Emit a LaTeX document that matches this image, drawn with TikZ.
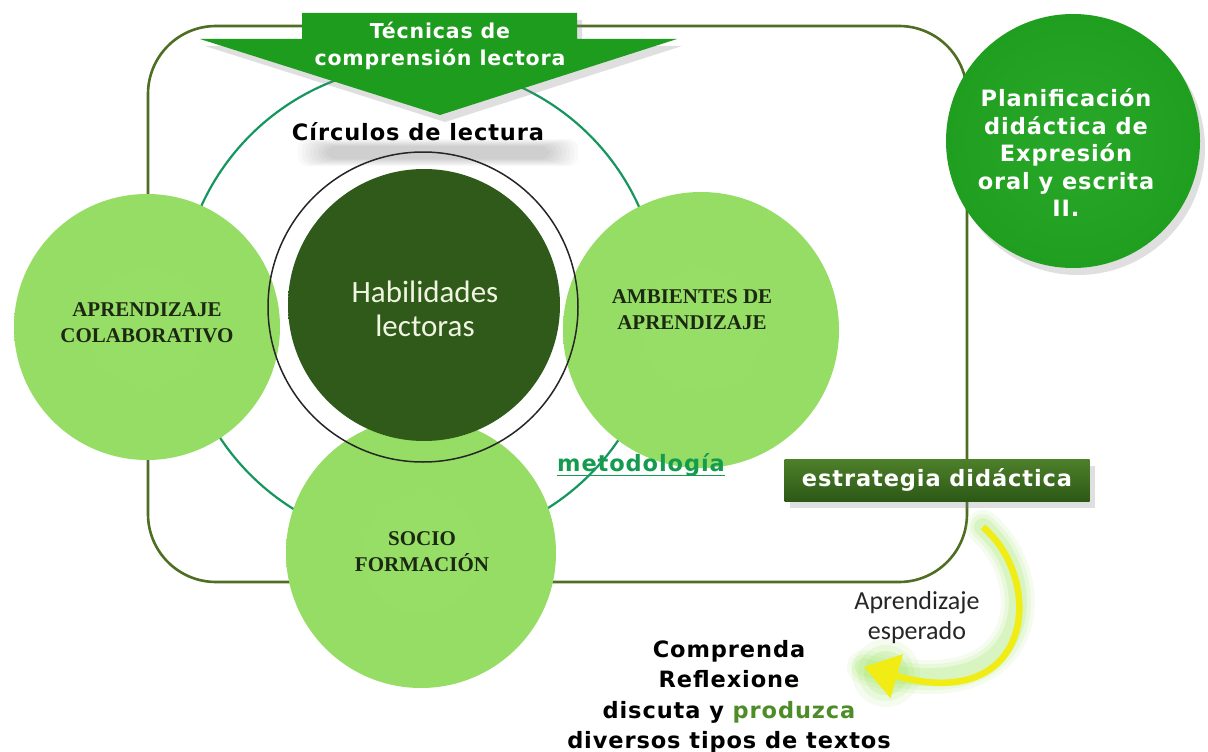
\documentclass[tikz,border=0pt]{standalone}
\usepackage{fontspec}
\usetikzlibrary{arrows.meta,shadows,calc}
\newfontfamily\widefont{DejaVu Sans}[LetterSpace=4]
\newfontfamily\calfont{Carlito}
\newfontfamily\capfont{Liberation Serif}
\definecolor{framec}{RGB}{78,110,34}
\definecolor{ringc}{RGB}{22,150,95}
\definecolor{lightc}{RGB}{148,220,98}
\definecolor{lightin}{RGB}{150,222,102}
\definecolor{lightedge}{RGB}{132,208,86}
\definecolor{darkc}{RGB}{48,90,26}
\definecolor{darkedge}{RGB}{32,62,15}
\definecolor{brightc}{RGB}{30,156,30}
\definecolor{brightin}{RGB}{40,168,40}
\definecolor{brightedge}{RGB}{22,132,22}
\definecolor{capc}{RGB}{28,40,18}
\definecolor{metc}{RGB}{20,155,80}
\definecolor{prodc}{RGB}{78,140,40}
\definecolor{boxtop}{RGB}{78,128,42}
\definecolor{boxbot}{RGB}{44,88,22}
\definecolor{yel}{RGB}{240,236,20}
\definecolor{glowc}{RGB}{160,230,100}
\definecolor{habc}{RGB}{240,245,225}
\pgfdeclareradialshading{lightball}{\pgfpoint{0bp}{0bp}}{color(0bp)=(lightin); color(44bp)=(lightc); color(50bp)=(lightedge)}
\pgfdeclareradialshading{darkball}{\pgfpoint{0bp}{0bp}}{color(0bp)=(darkc); color(40bp)=(darkc); color(50bp)=(darkedge)}
\pgfdeclareradialshading{brightball}{\pgfpoint{0bp}{0bp}}{color(0bp)=(brightin); color(30bp)=(brightc); color(50bp)=(brightedge)}
\tikzset{
  lightcirc/.style={circle, minimum size=#1, inner sep=0pt, shading=lightball},
  capt/.style={align=center, font=\capfont\bfseries\fontsize{21}{26}\selectfont, text=capc},
  boldtxt/.style 2 args={align=center, font=\widefont\bfseries\fontsize{#1}{#2}\selectfont},
  softshadow/.style={drop shadow={opacity=0.25, shadow xshift=5pt, shadow yshift=-7pt}},
}
\begin{document}
\begin{tikzpicture}[x=1pt,y=-1pt]
\useasboundingbox (0,0) rectangle (1208,752);
\fill[white] (0,0) rectangle (1208,752);

% teal ring and frame
\node[circle, draw=ringc, line width=2.2pt, minimum size=480, inner sep=0pt] (ring) at (420,305) {};
\draw[framec, line width=2.6pt, rounded corners=68pt] (148,26) rectangle (967,582);

% top arrow
\fill[brightc, softshadow] (302,13) -- (577,13) -- (577,39) -- (677,39) -- (440,115) -- (200,39) -- (302,39) -- cycle;
\node[boldtxt={20.5}{27}, text=white] (tec) at (440,46) {Técnicas de\\comprensión lectora};

% soft shadow band under Circulos de lectura
\foreach \i in {0,...,7}{
  \fill[black, opacity=0.022, rounded corners=9pt] (298+4*\i,139+\i) rectangle (578-4*\i,166-\i);
}
\node[boldtxt={22.5}{26}, text=black] (circ) at (418,132) {Círculos de lectura};

% light circles
\node[lightcirc=266] (colab) at (147,327) {};
\node[lightcirc=276] (amb) at (701,330) {};
\node[lightcirc=270] (socio) at (421,553) {};

% central dark circle and outline
\node[circle, minimum size=272, inner sep=0pt, shading=darkball] (hab) at (424,305) {};
\node[circle, draw=black!85, line width=1.5pt, minimum size=310, inner sep=0pt] (habring) at (423,307) {};

% circle texts
\node[capt] (colabt) at (147,323) {APRENDIZAJE\\COLABORATIVO};
\node[capt] (ambt) at (692,310) {AMBIENTES DE\\APRENDIZAJE};
\node[capt] (sociot) at (422,552) {SOCIO\\FORMACIÓN};
\node[align=center, text=habc, font=\calfont\fontsize{31}{34}\selectfont] (habt) at (425,309) {Habilidades\\lectoras};

% metodologia
\node[anchor=base, inner sep=0pt, font=\widefont\bfseries\fontsize{22.5}{24}\selectfont, text=metc] (met) at (641,471) {metodología};
\draw[metc, line width=1pt] ($(met.base west)+(0,4)$) -- ($(met.base east)+(0,4)$);

% planificacion circle
\node[circle, minimum size=254, inner sep=0pt, shading=brightball, softshadow] (plan) at (1073,141) {};
\node[boldtxt={22.5}{27.5}, text=white] (plant) at (1066,153) {Planificación\\didáctica de\\Expresión\\oral y escrita\\II.};

% estrategia box
\node[minimum width=305, minimum height=42, inner sep=0pt, top color=boxtop, bottom color=boxbot,
      softshadow, boldtxt={22.5}{24}, text=white] (estr) at (937,480) {estrategia didáctica};

% yellow curved arrow with glow
\coordinate (ys) at (983,527);
\coordinate (ye) at (864,667);
\foreach \w/\o in {34/0.10,26/0.15,18/0.22}{
  \draw[glowc, line width=\w pt, opacity=\o, line cap=round] (ys) .. controls (1045,580) and (1035,715) .. (ye);
}
\foreach \r/\o in {34/0.10,28/0.15,22/0.2}{
  \fill[glowc, opacity=\o] (886,673) circle (\r pt);
}
\draw[yel, line width=6.5pt, -{Triangle[length=34pt,width=44pt]}] (ys) .. controls (1045,580) and (1035,715) .. (ye);

\node[align=center, text=black!85, font=\calfont\fontsize{26}{30}\selectfont] (apr) at (917,618) {Aprendizaje\\esperado};

\node[boldtxt={22.5}{30.5}, text=black] (comp) at (729,697) {Comprenda\\Reflexione\\discuta y \textcolor{prodc}{produzca}\\diversos tipos de textos};
\end{tikzpicture}
\end{document}
